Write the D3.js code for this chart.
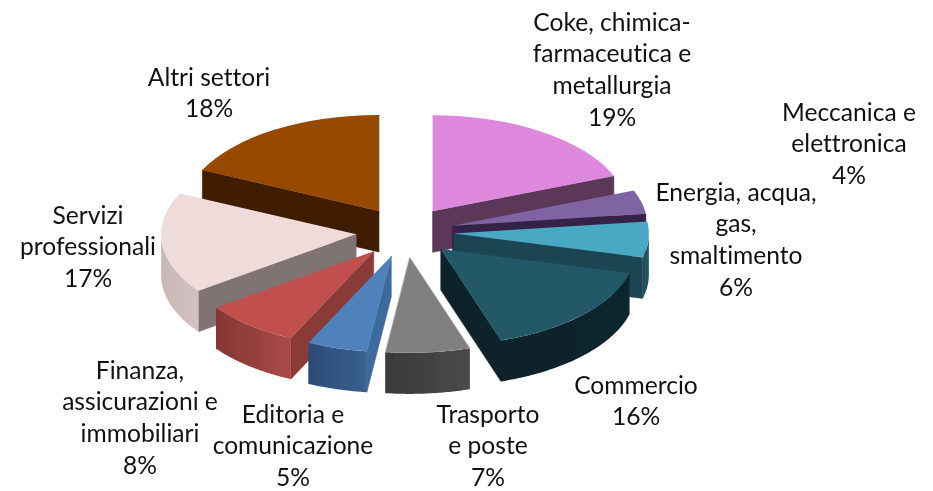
<!DOCTYPE html>
<html>
<head>
<meta charset="utf-8">
<script src="https://cdnjs.cloudflare.com/ajax/libs/d3/7.8.5/d3.min.js"></script>
<style>html,body{margin:0;padding:0;background:#fff;}svg{display:block;}text{font-variant-ligatures:none;font-feature-settings:"liga" 0;}</style>
</head>
<body>
<div id="chart"></div>
<script>
const categories = [
  ["Coke, chimica-","farmaceutica e","metallurgia"],
  ["Meccanica e","elettronica"],
  ["Energia, acqua,","gas,","smaltimento"],
  ["Commercio"],
  ["Trasporto","e poste"],
  ["Editoria e","comunicazione"],
  ["Finanza,","assicurazioni e","immobiliari"],
  ["Servizi","professionali"],
  ["Altri settori"]
];
const values = [19,4,6,16,7,5,8,17,18];
const topColors  = ["#de88dd","#8064a2","#4aa8c3","#205867","#7f7f7f","#4f81bd","#c0504d","#f0dbdb","#974806"];
const edgeColors = ["#5c3859","#35224a","#1f4552","#0d2229","#444444","#3e6a9c","#8a3a38","#7f7373","#3f1d00"];
const rimFrom    = ["#5c3859","#35224a","#265a69","#0f262e","#4a4a4a","#3a6190","#a94a47","#d3c0c0","#3f1d00"];
const rimTo      = ["#5c3859","#35224a","#204c59","#0d2229","#3a3a3a","#2b4b75","#853634","#c9b6b6","#3f1d00"];
const drawOrder  = [8,0,1,2,3,7,6,5,4];
const labelCenterX = [612,849,736,636,488,293,140,88,209];
const labelFirstY  = [22,112,192,385,414,414,370,215,77];

const W = 933, H = 491;
const cx = 405, cy = 232, rx = 195, ry = 96, depth = 41, explodeX = 49, explodeY = 25, lineH = 31.7;

const svg = d3.select("#chart").append("svg").attr("width", W).attr("height", H)
  .attr("viewBox", `0 0 ${W} ${H}`);
const defs = svg.append("defs");
defs.append("filter").attr("id","soft").attr("x","-5%").attr("y","-5%").attr("width","110%").attr("height","110%")
  .append("feGaussianBlur").attr("stdDeviation",0.45);

const arcs = d3.pie().sort(null).value(d => d)(values);
const topArc = d3.arc().innerRadius(0).outerRadius(1);

const root = svg.append("g").attr("filter","url(#soft)");

drawOrder.forEach(i => {
  const a = arcs[i];
  const mid = (a.startAngle + a.endAngle) / 2;
  const ax = cx + explodeX * Math.sin(mid);
  const ay = cy - explodeY * Math.cos(mid);
  const px = t => ax + rx * Math.sin(t);
  const py = t => ay - ry * Math.cos(t);
  const g = root.append("g");

  // flat inner walls: only those that face the viewer
  [[a.startAngle, -1], [a.endAngle, 1]].forEach(([t, side]) => {
    if (side * Math.sin(t) <= 0) return;
    const pts = [[ax, ay], [px(t), py(t)], [px(t), py(t) + depth], [ax, ay + depth]];
    g.append("path").attr("d", d3.line()(pts) + "Z")
      .attr("fill", edgeColors[i]).attr("stroke", edgeColors[i]).attr("stroke-width", 0.5);
  });

  // curved outer wall, only the part in the lower half of the ellipse
  const t0 = Math.max(a.startAngle, Math.PI / 2), t1 = Math.min(a.endAngle, Math.PI * 1.5);
  if (t1 > t0) {
    const gid = "rim" + i;
    const gr = defs.append("linearGradient").attr("id", gid)
      .attr("gradientUnits","userSpaceOnUse")
      .attr("x1", px(t0)).attr("x2", px(t1)).attr("y1", 0).attr("y2", 0);
    gr.append("stop").attr("offset", 0).attr("stop-color", rimFrom[i]);
    gr.append("stop").attr("offset", 1).attr("stop-color", rimTo[i]);
    const ts = d3.range(0, 41).map(k => t0 + (t1 - t0) * k / 40);
    g.append("path").attr("d", d3.area().x(px).y0(py).y1(t => py(t) + depth)(ts))
      .attr("fill", `url(#${gid})`);
  }

  // top face: a unit d3.arc squeezed onto the ellipse
  g.append("path").attr("d", topArc(a))
    .attr("transform", `translate(${ax},${ay}) scale(${rx},${ry})`)
    .attr("fill", topColors[i]);
});

// labels
const labels = svg.append("g")
  .attr("font-family", "Lato, 'Open Sans', sans-serif")
  .attr("font-size", 24.6).attr("fill", "#111").attr("text-anchor", "middle");
categories.forEach((lines, i) => {
  const all = lines.concat([values[i] + "%"]);
  const t = labels.append("text");
  all.forEach((s, k) => {
    t.append("tspan").attr("x", labelCenterX[i]).attr("y", labelFirstY[i] + k * lineH)
      .attr("dy", "0.35em").text(s);
  });
});
</script>
</body>
</html>
